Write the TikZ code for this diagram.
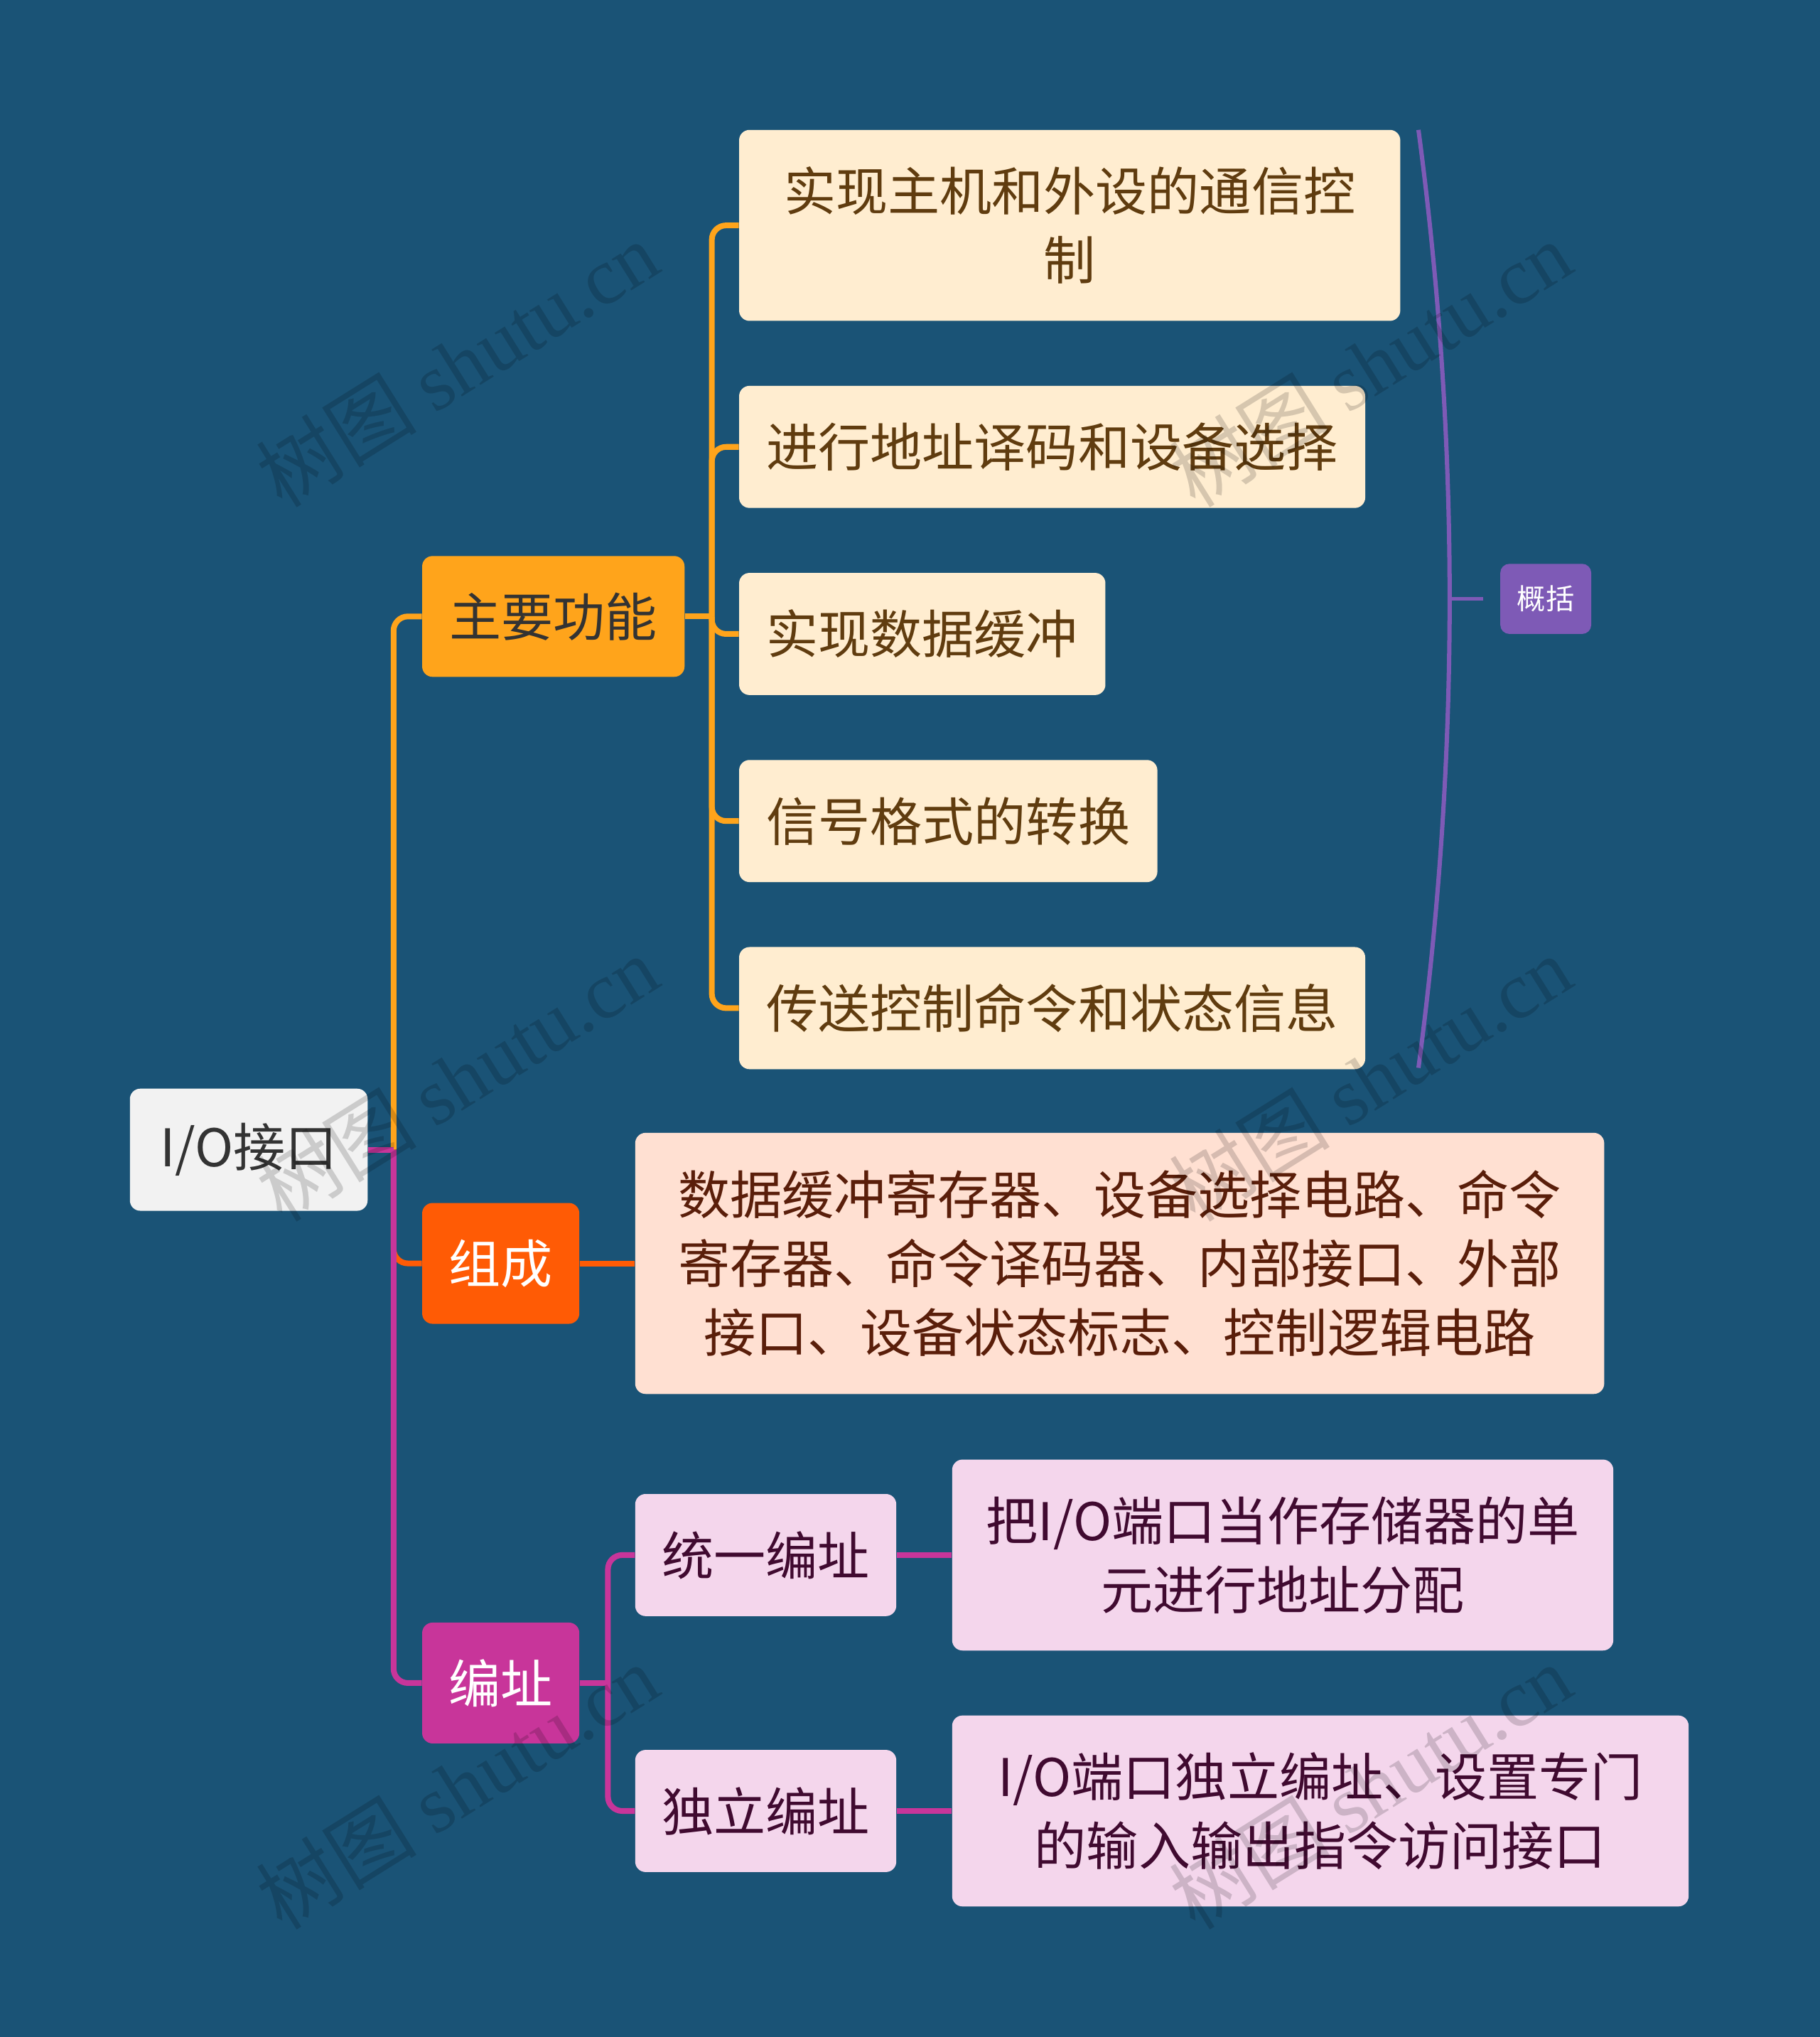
\documentclass[tikz,border=0pt]{standalone}
\usepackage{fontspec}
\setmainfont{Noto Sans CJK SC}
\newfontfamily\wmfont{Liberation Serif}
\definecolor{bgc}{RGB}{26,83,118}
\definecolor{rootfill}{RGB}{242,242,242}
\definecolor{darktxt}{RGB}{51,51,51}
\definecolor{orangec}{RGB}{255,164,27}
\definecolor{creamfill}{RGB}{255,237,208}
\definecolor{browntxt}{RGB}{96,60,15}
\definecolor{redorange}{RGB}{255,91,5}
\definecolor{peachfill}{RGB}{255,224,210}
\definecolor{redbrowntxt}{RGB}{90,30,10}
\definecolor{magentac}{RGB}{200,53,154}
\definecolor{pinkfill}{RGB}{244,214,236}
\definecolor{plumtxt}{RGB}{64,10,48}
\definecolor{purplec}{RGB}{126,90,182}
\tikzset{
  box/.style={rounded corners=8pt, inner sep=0pt, align=center,
    font=\fontsize{40}{53}\selectfont},
  rootbox/.style={box, fill=rootfill, text=darktxt},
  funcbox/.style={box, fill=orangec, text=darktxt},
  funcleaf/.style={box, fill=creamfill, text=browntxt},
  compbox/.style={box, fill=redorange, text=white},
  compleaf/.style={box, fill=peachfill, text=redbrowntxt},
  addrbox/.style={box, fill=magentac, text=white},
  addrleaf/.style={box, fill=pinkfill, text=plumtxt},
  sumbox/.style={rounded corners=7pt, inner sep=0pt, fill=purplec, text=white,
    font=\fontsize{22}{26}\selectfont},
  link/.style={line width=4.4pt},
  conn/.style={link, rounded corners=11pt},
  wm/.style={rotate=32, text=black, text opacity=0.16, font=\fontsize{62}{64}\selectfont}
}
\begin{document}
\begin{tikzpicture}[x=1pt,y=-1pt]
\fill[bgc] (0,0) rectangle (1401,1568);
\useasboundingbox (0,0) rectangle (1401,1568);

% junction coordinates
\coordinate (trunk) at (303,885);
\coordinate (fj) at (548,474.5);
\coordinate (aj) at (468,1295.5);

% nodes
\node[rootbox, minimum width=183pt, minimum height=94pt] (root) at (191.5,885) {I/O接口};
\node[funcbox, minimum width=202pt, minimum height=93pt] (f) at (426,474.5) {主要功能};
\node[compbox, minimum width=121pt, minimum height=93pt] (c) at (385.5,972.5) {组成};
\node[addrbox, minimum width=121pt, minimum height=93pt] (a) at (385.5,1295.5) {编址};

\node[funcleaf, minimum width=509pt, minimum height=147pt] (f1) at (823.5,173.5) {实现主机和外设的通信控\\制};
\node[funcleaf, minimum width=482pt, minimum height=94pt] (f2) at (810,344) {进行地址译码和设备选择};
\node[funcleaf, minimum width=282pt, minimum height=94pt] (f3) at (710,488) {实现数据缓冲};
\node[funcleaf, minimum width=322pt, minimum height=94pt] (f4) at (730,632) {信号格式的转换};
\node[funcleaf, minimum width=482pt, minimum height=94pt] (f5) at (810,776) {传送控制命令和状态信息};

\node[compleaf, minimum width=746pt, minimum height=201pt] (c1) at (862,972.5) {数据缓冲寄存器、设备选择电路、命令\\寄存器、命令译码器、内部接口、外部\\接口、设备状态标志、控制逻辑电路};

\node[addrleaf, minimum width=201pt, minimum height=94pt] (a1) at (589.5,1197) {统一编址};
\node[addrleaf, minimum width=201pt, minimum height=94pt] (a2) at (589.5,1394) {独立编址};
\node[addrleaf, minimum width=509pt, minimum height=147pt] (a1x) at (987.5,1197) {把I/O端口当作存储器的单\\元进行地址分配};
\node[addrleaf, minimum width=567pt, minimum height=147pt] (a2x) at (1016.5,1394) {I/O端口独立编址、设置专门\\的输入输出指令访问接口};

\node[sumbox, minimum width=70pt, minimum height=54pt] (sum) at (1190,461) {概括};

% connectors: root to main branches
\draw[conn, orangec] (trunk) |- (f.west);
\draw[conn, redorange] (trunk) |- (c.west);
\draw[conn, magentac] (trunk) |- (a.west);
\draw[link, magentac] (root.east) -- (trunk);

% main function children
\draw[link, orangec] (f.east) -- (fj);
\foreach \n in {f1,f2,f3,f4,f5} {
  \draw[conn, orangec] (fj) |- (\n.west);
}

% composition
\draw[link, redorange] (c.east) -- (c1.west);

% addressing
\draw[link, magentac] (a.east) -- (aj);
\draw[conn, magentac] (aj) |- (a1.west);
\draw[conn, magentac] (aj) |- (a2.west);
\draw[link, magentac] (a1.east) -- (a1x.west);
\draw[link, magentac] (a2.east) -- (a2x.west);

% summary brace
\coordinate (bt) at (1092,100);
\coordinate (bb) at (1092,822);
\coordinate (bm) at (1116,461);
\coordinate (bend) at (1142,461);
\draw[purplec, line width=3.3pt] (bt) .. controls (1124,340) and (1124,582) .. (bb);
\draw[purplec, line width=2.7pt] (bm) -- (bend);

% watermarks
\node[wm] (wm1) at (352,280) {树图 {\wmfont shutu.cn}};
\node[wm] (wm2) at (1055,280) {树图 {\wmfont shutu.cn}};
\node[wm] (wm3) at (352,830) {树图 {\wmfont shutu.cn}};
\node[wm] (wm4) at (1055,830) {树图 {\wmfont shutu.cn}};
\node[wm] (wm5) at (352,1375) {树图 {\wmfont shutu.cn}};
\node[wm] (wm6) at (1055,1375) {树图 {\wmfont shutu.cn}};
\end{tikzpicture}
\end{document}
